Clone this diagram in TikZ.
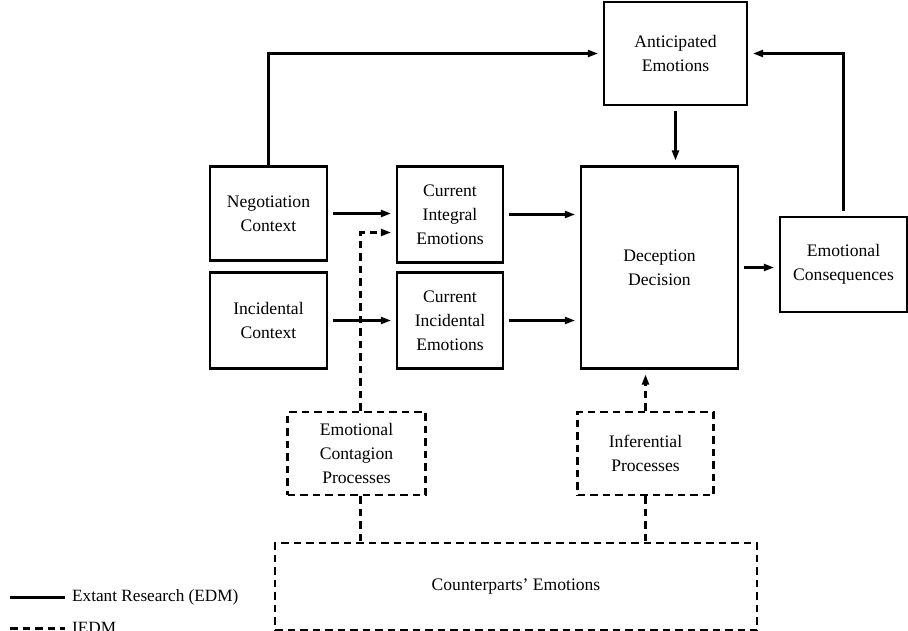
\documentclass[tikz,border=0pt]{standalone}
\usepackage{fontspec}
\setmainfont{Liberation Serif}
\usetikzlibrary{arrows.meta}
\begin{document}
\begin{tikzpicture}[x=1pt,y=-1pt,
    box/.style={draw,line width=2.2pt,align=center,inner sep=0pt,
      font=\fontsize{17.6}{24}\selectfont},
    dbox/.style={box,dash pattern=on 7.5pt off 5pt},
    link/.style={line width=2.2pt,shorten <=5pt,shorten >=5pt,
      -{Triangle[length=10pt,width=7pt]}},
    dlink/.style={link,dash pattern=on 7.5pt off 5pt}]
    \useasboundingbox (0,0) rectangle (908,631);
    \node[box,minimum width=143,minimum height=103] (ant) at (675.5,53.5) {Anticipated\\Emotions};
    \node[box,minimum width=117,minimum height=94] (neg) at (268.5,213.5) {Negotiation\\Context};
    \node[box,minimum width=117,minimum height=96] (inc) at (268.5,320.5) {Incidental\\Context};
    \node[box,minimum width=106,minimum height=96] (cie) at (450,214.5) {Current\\Integral\\Emotions};
    \node[box,minimum width=106,minimum height=96] (cinc) at (450,320.5) {Current\\Incidental\\Emotions};
    \node[box,minimum width=157,minimum height=202] (dec) at (659.5,267.5) {Deception\\Decision};
    \node[box,minimum width=127,minimum height=95] (cons) at (843.5,264.5) {Emotional\\Consequences};
    \node[dbox,minimum width=138,minimum height=83] (ecp) at (356.5,453.5) {Emotional\\Contagion\\Processes};
    \node[dbox,minimum width=136,minimum height=83] (inf) at (645.5,453.5) {Inferential\\Processes};
    \node[dbox,minimum width=482,minimum height=87] (cpe) at (516,586.5) {Counterparts' Emotions};
    \coordinate (cin) at ([yshift=-18pt]cie.west);
    % solid links
    \draw[link,shorten <=0pt] (neg.north) |- (ant.west);
    \draw[link] (cons.north) |- (ant.east);
    \draw[link] (ant.south) -- (ant.south |- dec.north);
    \draw[link] (neg.east) -- (neg.east -| cie.west);
    \draw[link] (inc.east) -- (inc.east -| cinc.west);
    \draw[link] (cie.east) -- (cie.east -| dec.west);
    \draw[link] (cinc.east) -- (cinc.east -| dec.west);
    \draw[link] (dec.east) -- (dec.east -| cons.west);
    % dashed links
    \draw[dlink,shorten <=0pt] ([xshift=4pt]ecp.north) |- (cin);
    \draw[dlink,shorten <=0pt] (inf.north) -- (inf.north |- dec.south);
    \draw[line width=2.2pt,dash pattern=on 7.5pt off 5pt] ([xshift=4pt]ecp.south) -- ([xshift=4pt]ecp.south |- cpe.north);
    \draw[line width=2.2pt,dash pattern=on 7.5pt off 5pt] (inf.south) -- (inf.south |- cpe.north);
    % legend
    \coordinate (la) at (10,597.5);
    \coordinate (lb) at (65,597.5);
    \coordinate (lc) at (10,628.5);
    \coordinate (ld) at (65,628.5);
    \draw[line width=2.2pt] (la) -- (lb);
    \draw[line width=2.2pt,dash pattern=on 7.5pt off 5pt] (lc) -- (ld);
    \node[anchor=west,inner sep=0pt,font=\fontsize{17.2}{24}\selectfont] (lsolid) at (72,597) {Extant Research (EDM)};
    \node[anchor=west,inner sep=0pt,font=\fontsize{17.2}{24}\selectfont] (ldash) at (72,628) {IEDM};
\end{tikzpicture}
\end{document}
